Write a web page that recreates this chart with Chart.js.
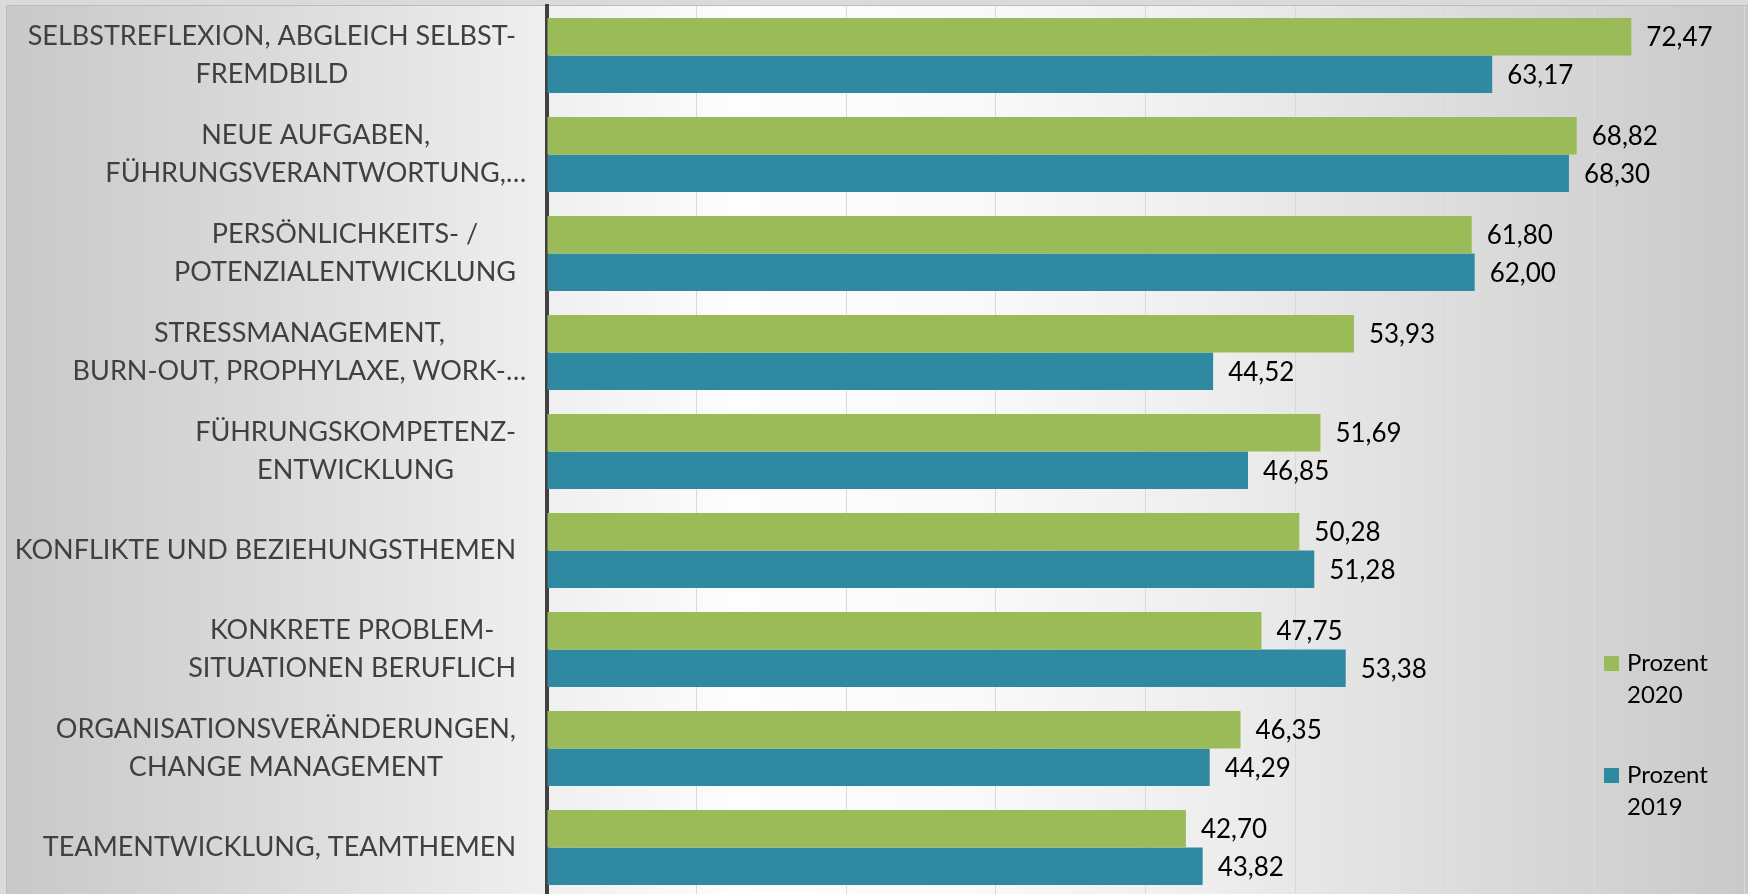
<!DOCTYPE html>
<html>
<head>
<meta charset="utf-8">
<script src="https://cdn.jsdelivr.net/npm/chart.js@4.4.1/dist/chart.umd.min.js"></script>
<style>
  html, body { margin: 0; padding: 0; overflow: hidden; background: #dadada; }
  #wrap { position: relative; width: 1748px; height: 900px; }
  canvas { display: block; }
</style>
</head>
<body>
<div id="wrap"><canvas id="chart" width="1748" height="900"></canvas></div>
<script>
// ---- data ----
const categories = [
  ["SELBSTREFLEXION, ABGLEICH SELBST-", "FREMDBILD"],
  ["NEUE AUFGABEN,", "FÜHRUNGSVERANTWORTUNG,…"],
  ["PERSÖNLICHKEITS- /", "POTENZIALENTWICKLUNG"],
  ["STRESSMANAGEMENT,", "BURN-OUT, PROPHYLAXE, WORK-…"],
  ["FÜHRUNGSKOMPETENZ-", "ENTWICKLUNG"],
  ["KONFLIKTE UND BEZIEHUNGSTHEMEN"],
  ["KONKRETE PROBLEM-", "SITUATIONEN BERUFLICH"],
  ["ORGANISATIONSVERÄNDERUNGEN,", "CHANGE MANAGEMENT"],
  ["TEAMENTWICKLUNG, TEAMTHEMEN"]
];
const seriesNames = ["Prozent 2020", "Prozent 2019"];
const prozent2020 = [72.47, 68.82, 61.80, 53.93, 51.69, 50.28, 47.75, 46.35, 42.70];
const prozent2019 = [63.17, 68.30, 62.00, 44.52, 46.85, 51.28, 53.38, 44.29, 43.82];
const axisMin = 0;
const axisMax = 80;
const axisStep = 10;

// ---- styles ----
const colors = ["#9BBB59", "#2E89A1"];

const backgroundPlugin = {
  id: 'bg',
  beforeDraw(chart) {
    const ctx = chart.ctx;
    const W = chart.width, H = chart.height;
    ctx.save();
    ctx.fillStyle = '#dadada';
    ctx.fillRect(0, 0, W, H);
    const g = ctx.createLinearGradient(0, 0, W, 0);
    g.addColorStop(0.0, '#c8c8c8');
    g.addColorStop(0.17, '#dcdcdc');
    g.addColorStop(0.31, '#efefef');
    g.addColorStop(0.42, '#fdfdfd');
    g.addColorStop(0.55, '#fafafa');
    g.addColorStop(0.69, '#eeeeee');
    g.addColorStop(0.83, '#dddddd');
    g.addColorStop(1.0, '#c9c9c9');
    ctx.fillStyle = g;
    ctx.fillRect(7, 6, W - 7, H - 6);
    ctx.strokeStyle = '#bdbdbd';
    ctx.lineWidth = 1;
    ctx.beginPath();
    ctx.moveTo(6.5, H);
    ctx.lineTo(6.5, 5.5);
    ctx.lineTo(W, 5.5);
    ctx.stroke();
    ctx.restore();
  }
};

// Category labels: each label block is right-aligned next to the axis,
// lines are centred inside the block (as in the original spreadsheet chart);
// a truncation ellipsis is allowed to overflow the block.
const categoryLabelPlugin = {
  id: 'categoryLabels',
  afterDraw(chart) {
    const ctx = chart.ctx;
    const yScale = chart.scales.y;
    const gapToAxis = 31;
    const lineHeight = 38;
    const right = yScale.right - gapToAxis;
    ctx.save();
    ctx.font = '27px Lato';
    ctx.fillStyle = '#404040';
    ctx.textAlign = 'center';
    ctx.textBaseline = 'middle';
    chart.data.labels.forEach((lines, i) => {
      const yc = yScale.getPixelForTick(i);
      const blockW = Math.max(...lines.map(l => ctx.measureText(l.replace(/…$/, '')).width));
      const xc = right - blockW / 2;
      lines.forEach((line, li) => {
        ctx.fillText(line, xc, yc + (li - (lines.length - 1) / 2) * lineHeight);
      });
    });
    ctx.restore();
  }
};

const valueLabelPlugin = {
  id: 'valueLabels',
  afterDatasetsDraw(chart) {
    const ctx = chart.ctx;
    ctx.save();
    ctx.font = '26px Lato';
    ctx.fillStyle = '#000000';
    ctx.textAlign = 'left';
    ctx.textBaseline = 'middle';
    chart.data.datasets.forEach((ds, di) => {
      const meta = chart.getDatasetMeta(di);
      meta.data.forEach((bar, i) => {
        const txt = ds.data[i].toFixed(2).replace('.', ',');
        ctx.fillText(txt, bar.x + 15, bar.y + 1);
      });
    });
    ctx.restore();
  }
};

const legendPlugin = {
  id: 'sideLegend',
  afterDraw(chart) {
    const ctx = chart.ctx;
    const boxX = 1604, boxY = 656, box = 15, textX = 1627;
    const lineGap = 32, itemGap = 112;
    ctx.save();
    ctx.font = '24px Lato';
    ctx.textAlign = 'left';
    ctx.textBaseline = 'middle';
    chart.data.datasets.forEach((ds, di) => {
      const y0 = boxY + di * itemGap;
      ctx.fillStyle = ds.backgroundColor;
      ctx.fillRect(boxX, y0, box, box);
      ctx.fillStyle = '#000000';
      ds.label.split(' ').forEach((line, li) => {
        ctx.fillText(line, textX, y0 + box / 2 + li * lineGap);
      });
    });
    ctx.restore();
  }
};

new Chart(document.getElementById('chart'), {
  type: 'bar',
  data: {
    labels: categories,
    datasets: [
      { label: seriesNames[0], data: prozent2020, backgroundColor: colors[0], borderWidth: 0 },
      { label: seriesNames[1], data: prozent2019, backgroundColor: colors[1], borderWidth: 0 }
    ]
  },
  options: {
    indexAxis: 'y',
    responsive: false,
    animation: false,
    devicePixelRatio: 1,
    events: [],
    layout: { padding: { left: 0, right: 4, top: 6, bottom: 3 } },
    datasets: { bar: { categoryPercentage: 0.7576, barPercentage: 1.0 } },
    plugins: {
      legend: { display: false },
      tooltip: { enabled: false },
      title: { display: false }
    },
    scales: {
      x: {
        min: axisMin,
        max: axisMax,
        ticks: { display: false, stepSize: axisStep },
        grid: { color: '#d9d9d9', lineWidth: 1, drawTicks: false },
        border: { display: false },
        afterFit(scale) {
          scale.height = 0;
          scale.paddingLeft = 0; scale.paddingRight = 0;
          scale.paddingTop = 0; scale.paddingBottom = 0;
        }
      },
      y: {
        z: 1,
        grid: { display: false, drawTicks: false },
        border: { display: true, color: '#404040', width: 4 },
        ticks: { display: false, autoSkip: false },
        afterFit(scale) {
          scale.width = 547;
          scale.paddingTop = 0; scale.paddingBottom = 0;
          scale.paddingLeft = 0; scale.paddingRight = 0;
        }
      }
    }
  },
  plugins: [backgroundPlugin, categoryLabelPlugin, valueLabelPlugin, legendPlugin]
});
</script>
</body>
</html>
